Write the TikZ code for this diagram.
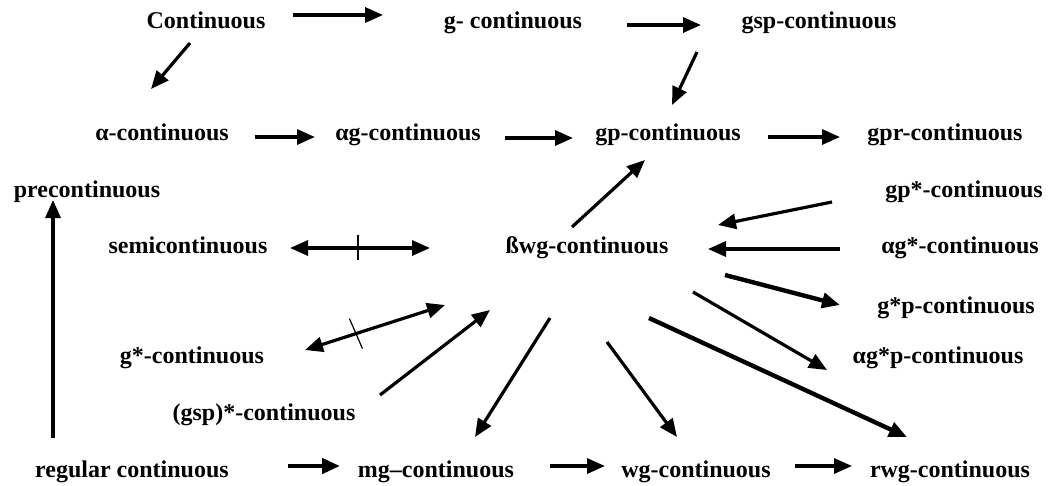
\documentclass[tikz,border=0pt]{standalone}
\usepackage{fontspec}
\setmainfont{Liberation Serif}
\usetikzlibrary{arrows.meta}
\begin{document}
\begin{tikzpicture}[x=1pt,y=-1pt,
  lbl/.style={anchor=base,inner sep=0pt,font=\fontsize{24}{26}\selectfont\bfseries},
  arr/.style={line width=3.2pt,-{Triangle[length=18pt,width=15pt]}},
  thickarr/.style={arr,line width=4.4pt},
  dblarr/.style={line width=3.2pt,{Triangle[length=18pt,width=15pt]}-{Triangle[length=18pt,width=15pt]}},
  tick/.style={line width=1.2pt}]
\useasboundingbox (0,0) rectangle (1055,485);
% node labels
\node[lbl] (cont)   at (206,28)  {Continuous};
\node[lbl] (gc)     at (513,28)  {g- continuous};
\node[lbl] (gsp)    at (819,28)  {gsp-continuous};
\node[lbl] (alpha)  at (162,140) {α-continuous};
\node[lbl] (ag)     at (408,140) {αg-continuous};
\node[lbl] (gp)     at (668,140) {gp-continuous};
\node[lbl] (gpr)    at (945,140) {gpr-continuous};
\node[lbl] (pre)    at (87,197)  {precontinuous};
\node[lbl] (gpst)   at (964,197) {gp*-continuous};
\node[lbl] (semi)   at (188,253) {semicontinuous};
\node[lbl] (bwg)    at (587,253) {ßwg-continuous};
\node[lbl] (agst)   at (960,253) {αg*-continuous};
\node[lbl] (gstp)   at (956,313) {g*p-continuous};
\node[lbl] (gst)    at (192,363) {g*-continuous};
\node[lbl] (agstp)  at (938,363) {αg*p-continuous};
\node[lbl] (gspst)  at (264,420) {(gsp)*-continuous};
\node[lbl] (reg)    at (132,477) {regular continuous};
\node[lbl] (mg)     at (436,477) {mg–continuous};
\node[lbl] (wg)     at (696,477) {wg-continuous};
\node[lbl] (rwg)    at (950,477) {rwg-continuous};
% top part
\draw[arr] ([shift={(87,-13)}]cont.base) -- ([shift={(-130,-13)}]gc.base);
\draw[arr] ([shift={(-16,15)}]cont.base) -- ([shift={(-11,-51)}]alpha.base);
\draw[arr] ([shift={(114,-3)}]gc.base) -- ([shift={(-118,-3)}]gsp.base);
\draw[arr] ([shift={(-122,24)}]gsp.base) -- ([shift={(4,-35)}]gp.base);
\draw[arr] ([shift={(93,-3)}]alpha.base) -- ([shift={(-93,-3)}]ag.base);
\draw[arr] ([shift={(97,-2)}]ag.base) -- ([shift={(-95,-2)}]gp.base);
\draw[arr] ([shift={(100,-3)}]gp.base) -- ([shift={(-105,-3)}]gpr.base);
% left column
\draw[arr] ([shift={(-79,-39)}]reg.base) -- ([shift={(-34,3)}]pre.base);
% non-implication semicontinuous / bwg
\draw[dblarr] ([shift={(102,-5)}]semi.base) -- coordinate[pos=0.486] (t1) ([shift={(-157,-5)}]bwg.base);
\draw[tick] ([yshift=-12]t1) -- ([yshift=13]t1);
% into and out of bwg
\draw[arr] ([shift={(-15,-26)}]bwg.base) -- ([shift={(-23,20)}]gp.base);
\draw[arr] ([shift={(-132,5)}]gpst.base) -- ([shift={(131,-28)}]bwg.base);
\draw[arr] ([shift={(-120,-4)}]agst.base) -- ([shift={(121,-4)}]bwg.base);
\draw[thickarr] ([shift={(138,22)}]bwg.base) -- ([shift={(-116,-8)}]gstp.base);
\draw[arr] ([shift={(106,39)}]bwg.base) -- ([shift={(-111,7)}]agstp.base);
\draw[thickarr] ([shift={(62,65)}]bwg.base) -- ([shift={(-43,-40)}]rwg.base);
\draw[arr] ([shift={(20,89)}]bwg.base) -- ([shift={(-19,-40)}]wg.base);
\draw[arr] ([shift={(-37,65)}]bwg.base) -- ([shift={(39,-40)}]mg.base);
\draw[dblarr] ([shift={(113,-13)}]gst.base) -- coordinate[pos=0.364] (t2) ([shift={(-142,52)}]bwg.base);
\draw[tick] ([shift={(-6.5,-15)}]t2) -- ([shift={(6.5,15)}]t2);
\draw[arr] ([shift={(116,-25)}]gspst.base) -- ([shift={(-97,57)}]bwg.base);
% bottom row
\draw[thickarr] ([shift={(156,-11)}]reg.base) -- ([shift={(-96,-11)}]mg.base);
\draw[arr] ([shift={(114,-11)}]mg.base) -- ([shift={(-91,-11)}]wg.base);
\draw[arr] ([shift={(99,-11)}]wg.base) -- ([shift={(-98,-11)}]rwg.base);
\end{tikzpicture}
\end{document}
